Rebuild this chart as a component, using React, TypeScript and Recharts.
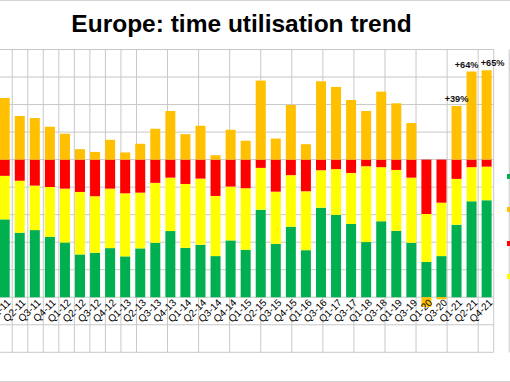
import React from 'react';
import { ComposedChart, Bar, Line, XAxis, YAxis, CartesianGrid, LabelList, Legend } from 'recharts';

const quarters = [
  'Q1-11', 'Q2-11', 'Q3-11', 'Q4-11', 'Q1-12', 'Q2-12', 'Q3-12', 'Q4-12',
  'Q1-13', 'Q2-13', 'Q3-13', 'Q4-13', 'Q1-14', 'Q2-14', 'Q3-14', 'Q4-14',
  'Q1-15', 'Q2-15', 'Q3-15', 'Q4-15', 'Q1-16', 'Q3-16', 'Q1-17', 'Q3-17',
  'Q1-18', 'Q3-18', 'Q1-19', 'Q3-19', 'Q1-20', 'Q3-20', 'Q1-21', 'Q2-21', 'Q4-21',
];

const greenValues = [
  56.6, 46.9, 48.8, 43.9, 39.8, 31.1, 32.3, 35.7,
  29.7, 35.5, 39.6, 48.1, 35.9, 38.1, 29.9, 41.3,
  34.5, 63.6, 38.8, 51.2, 34.2, 65.1, 59.8, 53.2,
  40.1, 55.2, 48.3, 39.6, 25.7, 29.9, 52.7, 69.7, 70.5,
];

const yellowValues = [
  31.6, 37.8, 32.3, 36.2, 39.1, 45.4, 41.1, 43.2,
  45.8, 40.5, 43.5, 38.8, 46.4, 48.1, 43.7, 39.1,
  44.7, 30.4, 37.9, 37.5, 42.8, 27.2, 33.3, 37.1,
  55.1, 39.3, 44.2, 47.3, 34.8, 38.8, 33.3, 24.8, 24.4,
];

const redValues = [
  11.8, 15.3, 18.9, 19.9, 21.1, 23.5, 26.6, 21.1,
  24.5, 24.0, 16.9, 13.1, 17.7, 13.8, 26.4, 19.6,
  20.8, 6.0, 23.3, 11.3, 23.0, 7.7, 6.9, 9.7,
  4.8, 5.5, 7.5, 13.1, 39.5, 31.3, 14.0, 5.5, 5.1,
];

const orangeValues = [
  44.8, 31.7, 30.2, 23.9, 18.8, 7.6, 5.6, 14.4,
  5.2, 11.5, 22.4, 35.3, 18.5, 24.6, 3.2, 21.7,
  13.7, 57.4, 15.3, 39.7, 11.2, 56.9, 52.8, 43.3,
  35.3, 49.4, 40.9, 26.6, -7, -1.5, 39, 64, 65,
];

const growthLabels = [
  '', '', '', '', '', '', '', '', '', '', '', '', '', '', '', '', '',
  '', '', '', '', '', '', '', '', '', '', '', '', '', '+39%', '+64%', '+65%',
];

const yTicks = [-40, -20, 0, 20, 40, 60, 80, 100, 120, 140, 160, 180];

const data = quarters.map((q, i) => ({
  q,
  green: greenValues[i],
  yellow: yellowValues[i],
  red: redValues[i],
  orange: orangeValues[i],
  note: growthLabels[i],
}));

const gridTicks = Array.from({ length: quarters.length + 1 }, (_, i) => i);

const FONT = '"Liberation Sans", Arial, sans-serif';
const noteShift: Record<number, number> = { 30: 0, 31: -5, 32: 6 };

const CategoryLabel = (props: any) => {
  const { x, y, value } = props;
  if (x == null || y == null) return null;
  const ax = x + 7;
  const ay = y + 6;
  return (
    <text
      x={ax}
      y={ay}
      transform={`rotate(-45 ${ax} ${ay})`}
      textAnchor="end"
      fontSize={10}
      fontFamily={FONT}
      fill="#000"
    >
      {value}
    </text>
  );
};

const GrowthLabel = (props: any) => {
  const { x, y, width, value, index } = props;
  if (!value) return null;
  const cx = x + width / 2 + (noteShift[index] || 0);
  return (
    <text
      x={cx}
      y={y - 4}
      textAnchor="middle"
      fontSize={9.2}
      fontWeight="bold"
      fontFamily={FONT}
      fill="#111"
    >
      {value}
    </text>
  );
};

const LegendSquares = (props: any) => {
  const items = (props.payload || []).filter((p: any) => p.type !== 'none');
  return (
    <div>
      {items.map((p: any, i: number) => (
        <div key={i} style={{ height: 33.33 }}>
          <div style={{ width: 5, height: 5, background: p.color }} />
        </div>
      ))}
    </div>
  );
};

export default function App() {
  return (
    <div
      style={{
        position: 'absolute',
        left: 0,
        top: 0,
        width: 510,
        height: 380,
        borderTop: '1px solid #d4d4d4',
        borderBottom: '1px solid #d4d4d4',
        overflow: 'hidden',
        background: '#fff',
      }}
    >
      <div
        style={{
          position: 'absolute',
          left: 0,
          width: 483,
          top: 11,
          textAlign: 'center',
          fontFamily: FONT,
          fontWeight: 'bold',
          fontSize: 24.5,
          lineHeight: '24px',
          color: '#000',
        }}
      >
        Europe: time utilisation trend
      </div>
      <div style={{ position: 'absolute', left: -40, top: -1 }}>
        <ComposedChart
          width={560}
          height={382}
          data={data}
          stackOffset="sign"
          barSize={10}
          margin={{ top: 49.5, right: 26.3, bottom: 29.7, left: 36.7 }}
        >
          <CartesianGrid xAxisId="grid" stroke="#c8c8c8" strokeWidth={1} />
          <XAxis dataKey="q" hide />
          <XAxis xAxisId="grid" type="number" domain={[0, quarters.length]} ticks={gridTicks} hide />
          <YAxis type="number" domain={[-40, 180]} ticks={yTicks} hide />
          <Legend
            layout="vertical"
            align="center"
            verticalAlign="middle"
            wrapperStyle={{ position: 'absolute', left: 546.7, top: 174, width: 40 }}
            content={LegendSquares}
          />
          <Bar dataKey="green" stackId="a" fill="#00B050" isAnimationActive={false} />
          <Bar dataKey="yellow" stackId="a" fill="#FFFF00" isAnimationActive={false} />
          <Bar dataKey="red" stackId="a" fill="#FF0000" isAnimationActive={false} />
          <Bar dataKey="orange" stackId="a" fill="#FFC000" isAnimationActive={false}>
            <LabelList dataKey="note" content={GrowthLabel} />
          </Bar>
          <Line
            dataKey={() => 0}
            stroke="none"
            dot={false}
            activeDot={false}
            legendType="none"
            isAnimationActive={false}
          >
            <LabelList dataKey="q" content={CategoryLabel} />
          </Line>
        </ComposedChart>
      </div>
    </div>
  );
}
